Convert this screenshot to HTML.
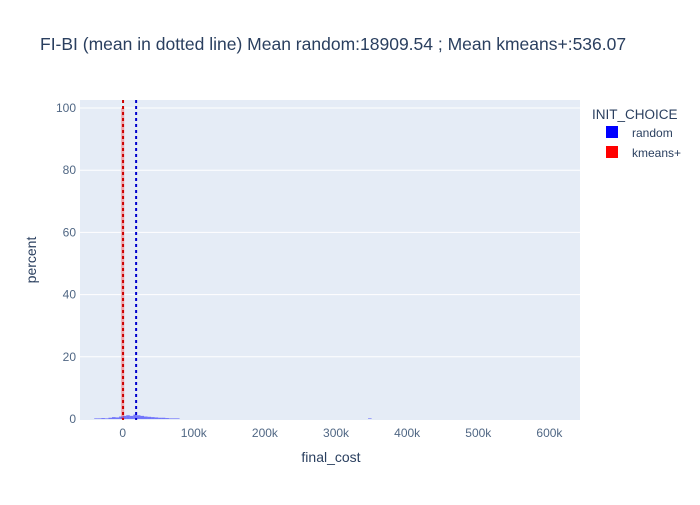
<!DOCTYPE html>
<html><head><meta charset="utf-8"><style>
body{margin:0;background:#fff;font-family:"Liberation Sans",sans-serif;}
</style></head><body>
<svg width="700" height="500" xmlns="http://www.w3.org/2000/svg" font-family="Liberation Sans, sans-serif" id="chart">
<rect width="700" height="500" fill="#fff"/>
<text x="40" y="50" font-size="17.5" fill="#2a3f5f">FI-BI (mean in dotted line) Mean random:18909.54 ; Mean kmeans+:536.07</text>
<rect x="80" y="100" width="500" height="320" fill="#e5ecf6"/>
<g id="grid"></g>
<g id="bars"></g>
<g id="means"></g>
<g id="ticks" font-size="12" fill="#506784"></g>
<text x="331" y="462" font-size="14" fill="#2a3f5f" text-anchor="middle">final_cost</text>
<text transform="translate(36,260) rotate(-90)" font-size="14" fill="#2a3f5f" text-anchor="middle">percent</text>
<g>
<text x="592" y="119" font-size="13.5" fill="#2a3f5f">INIT_CHOICE</text>
<g><rect x="606" y="126" width="12" height="12" fill="#0000ff"/><text x="632" y="137" font-size="12" fill="#2a3f5f">random</text></g>
<g><rect x="606" y="146" width="12" height="12" fill="#ff0000"/><text x="632" y="157" font-size="12" fill="#2a3f5f">kmeans+</text></g>
</g>
</svg>
<script>
const xTicks=[0,100000,200000,300000,400000,500000,600000];
const xTickLabels=["0","100k","200k","300k","400k","500k","600k"];
const yTicks=[0,20,40,60,80,100];
const randomBinStarts=[-40000,-35000,-30000,-25000,-20000,-15000,-10000,-5000,0,5000,10000,15000,20000,25000,30000,35000,40000,45000,50000,55000,60000,65000,70000,75000,345000];
const randomValues=[0.2,0.2,0.3,0.2,0.4,0.6,0.5,0.8,1.0,1.2,1.0,1.4,1.2,1.0,0.8,0.7,0.6,0.5,0.4,0.4,0.3,0.2,0.2,0.2,0.2];
const randomBinWidth=5000;
const kmeansBinStarts=[0];
const kmeansValues=[100];
const kmeansBinWidth=1500;
const means=[18909.54,536.07];
const meanColors=["#0000cc","#cc0000"];
const X0=-60000,X1=643000;
const sx=v=>80+(v-X0)/(X1-X0)*500;
const sy=v=>419-v/100*311;
const NS="http://www.w3.org/2000/svg";
function mk(tag,attrs,parent){const e=document.createElementNS(NS,tag);for(const k in attrs)e.setAttribute(k,attrs[k]);parent.appendChild(e);return e;}
const grid=document.getElementById('grid'),ticks=document.getElementById('ticks'),bars=document.getElementById('bars'),mg=document.getElementById('means');
yTicks.forEach(t=>{
  if(t>0){const l=mk('line',{x1:80,x2:580,y1:sy(t),y2:sy(t),stroke:'#fff','stroke-width':1},grid);
  
  }
  const tx=mk('text',{x:76,y:sy(t)+4,'text-anchor':'end'},ticks);tx.textContent=t;
  
  
});
xTicks.forEach((t,i)=>{
  const tx=mk('text',{x:sx(t),y:437,'text-anchor':'middle'},ticks);tx.textContent=xTickLabels[i];
  
  
});
randomBinStarts.forEach((b,i)=>{
  const r=mk('rect',{x:sx(b),width:Math.max(1,sx(b+randomBinWidth)-sx(b)),y:sy(randomValues[i]),height:sy(0)-sy(randomValues[i]),fill:'#0000ff','fill-opacity':0.5},bars);
  
  
});
kmeansBinStarts.forEach((b,i)=>{
  const r=mk('rect',{x:sx(b)-1.5,width:3,y:sy(kmeansValues[i]),height:sy(0)-sy(kmeansValues[i]),fill:'#ff0000','fill-opacity':0.3},bars);
  
  
});
means.forEach((m,i)=>{
  const l=mk('line',{x1:sx(m),x2:sx(m),y1:100,y2:420,stroke:meanColors[i],'stroke-width':2,'stroke-dasharray':'3,3'},mg);
  
  
});
</script>
</body></html>
